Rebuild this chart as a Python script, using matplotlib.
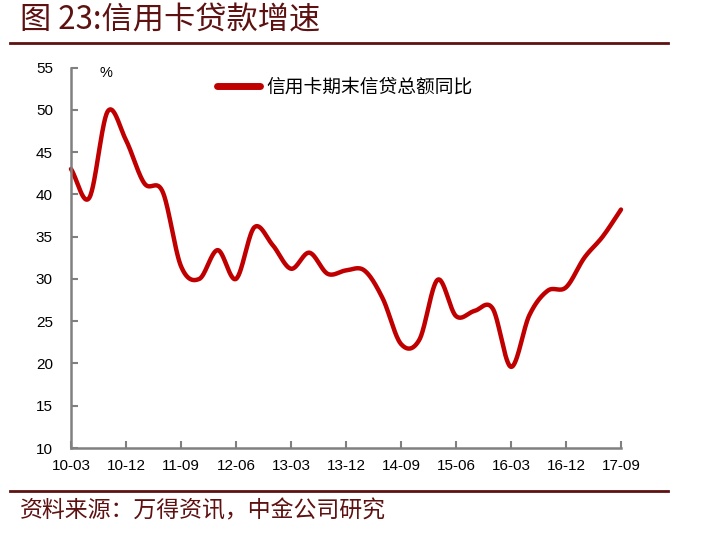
import numpy as np
import matplotlib
matplotlib.use("Agg")
import matplotlib.pyplot as plt

plt.rcParams['font.family'] = ['Liberation Sans', 'Noto Sans CJK SC', 'DejaVu Sans']

quarters = ['10-03', '10-06', '10-09', '10-12', '11-03', '11-06', '11-09', '11-12',
            '12-03', '12-06', '12-09', '12-12', '13-03', '13-06', '13-09', '13-12',
            '14-03', '14-06', '14-09', '14-12', '15-03', '15-06', '15-09', '15-12',
            '16-03', '16-06', '16-09', '16-12', '17-03', '17-06', '17-09']
growth = [43.0, 39.6, 49.8, 46.4, 41.3, 40.3, 31.5, 30.0, 33.4, 30.0, 36.1, 34.0,
          31.2, 33.1, 30.6, 31.0, 31.0, 27.7, 22.3, 22.8, 29.9, 25.6, 26.2, 26.5,
          19.6, 25.7, 28.6, 29.0, 32.5, 35.0, 38.2]
series_name = '信用卡期末信贷总额同比'
title = '图 23:信用卡贷款增速'
source = '资料来源：万得资讯，中金公司研究'
yticks = [10, 15, 20, 25, 30, 35, 40, 45, 50, 55]

RED = '#C00000'
MAROON = '#5E1111'
GRAY = '#808080'


def catmull_rom(x, y, n=30):
    x = np.asarray(x, float)
    y = np.asarray(y, float)
    px = np.concatenate([[2 * x[0] - x[1]], x, [2 * x[-1] - x[-2]]])
    py = np.concatenate([[2 * y[0] - y[1]], y, [2 * y[-1] - y[-2]]])
    xs, ys = [], []
    t = np.linspace(0, 1, n, endpoint=False)
    for i in range(1, len(px) - 2):
        p0x, p1x, p2x, p3x = px[i - 1:i + 3]
        p0y, p1y, p2y, p3y = py[i - 1:i + 3]
        c1x = p1x + (p2x - p0x) / 6
        c1y = p1y + (p2y - p0y) / 6
        c2x = p2x - (p3x - p1x) / 6
        c2y = p2y - (p3y - p1y) / 6
        bx = (1 - t) ** 3 * p1x + 3 * (1 - t) ** 2 * t * c1x + 3 * (1 - t) * t ** 2 * c2x + t ** 3 * p2x
        by = (1 - t) ** 3 * p1y + 3 * (1 - t) ** 2 * t * c1y + 3 * (1 - t) * t ** 2 * c2y + t ** 3 * p2y
        xs.append(bx)
        ys.append(by)
    xs.append([x[-1]])
    ys.append([y[-1]])
    return np.concatenate(xs), np.concatenate(ys)


fig = plt.figure(figsize=(7.01, 5.35), dpi=100)
ax = fig.add_axes([71 / 701, 1 - 448 / 535, 550 / 701, (448 - 67.5) / 535])

xi = np.arange(len(quarters))
sx, sy = catmull_rom(xi, growth)
ax.plot(sx, sy, color=RED, lw=3.2, solid_capstyle='round', label=series_name, clip_on=False)

ax.set_xlim(0, len(quarters) - 1)
ax.set_ylim(10, 55)
ax.set_yticks(yticks)
ax.set_yticklabels([str(v) for v in yticks], fontsize=11)
ax.set_xticks(xi[::3])
ax.set_xticklabels(quarters[::3], fontsize=11)

for s in ['top', 'right']:
    ax.spines[s].set_visible(False)
for s in ['left', 'bottom']:
    ax.spines[s].set_color(GRAY)
    ax.spines[s].set_linewidth(1.8)
ax.tick_params(axis='both', direction='in', length=5, width=1.5, color=GRAY)
ax.tick_params(axis='y', pad=13)
ax.tick_params(axis='x', pad=8)

ax.text(0.052, 0.985, '%', transform=ax.transAxes, fontsize=10.5, ha='left', va='center')

leg = ax.legend(loc='upper left', bbox_to_anchor=(0.235, 1.02), frameon=False,
                handlelength=2.3, handletextpad=0.35,
                prop={'family': ['Noto Sans CJK SC'], 'size': 13.5})
for h in leg.get_lines():
    h.set_linewidth(5)

fig.text(20 / 701, 1 - 21 / 535, title, fontsize=22.5, color=MAROON, ha='left', va='center',
         family=['Noto Sans CJK SC'], style='italic')
fig.add_artist(plt.Line2D([10 / 701, 668 / 701], [1 - 43 / 535, 1 - 43 / 535],
                          color=MAROON, lw=2, transform=fig.transFigure))
fig.add_artist(plt.Line2D([10 / 701, 668 / 701], [1 - 491 / 535, 1 - 491 / 535],
                          color=MAROON, lw=2, transform=fig.transFigure))
fig.text(20 / 701, 1 - 511 / 535, source, fontsize=16.5, color=MAROON, ha='left', va='center',
         family=['Noto Sans CJK SC'], style='italic')

fig.savefig('out.png', dpi=100)
